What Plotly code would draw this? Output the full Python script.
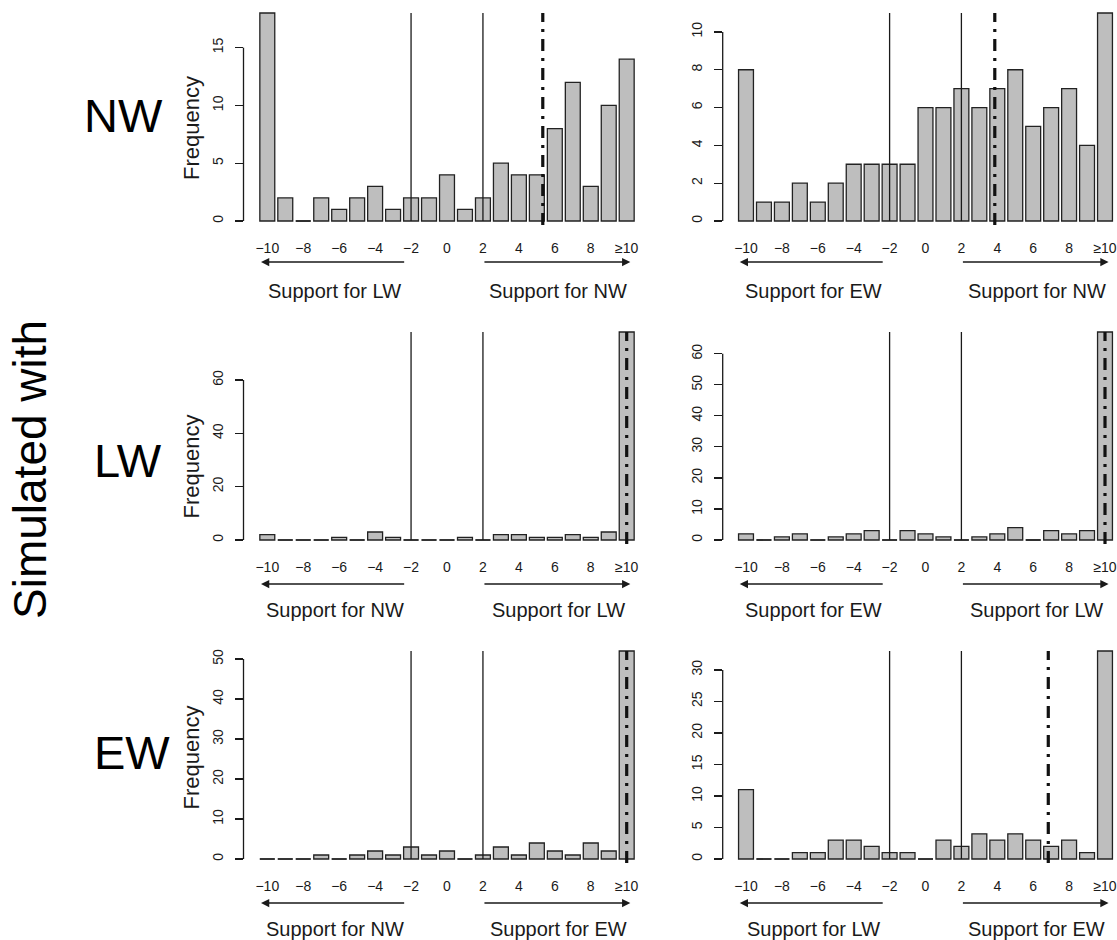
import plotly.graph_objects as go

W, H = 1117, 940

# ---------------- data ----------------
bins = list(range(-10, 11))
tick_vals = [-10, -8, -6, -4, -2, 0, 2, 4, 6, 8, 10]
tick_text = ["\u221210", "\u22128", "\u22126", "\u22124", "\u22122", "0", "2", "4", "6", "8", "\u226510"]

sim_models = ["NW", "LW", "EW"]
support_left = [["LW", "EW"], ["NW", "EW"], ["NW", "LW"]]
support_right = [["NW", "NW"], ["LW", "LW"], ["EW", "EW"]]

nw_lw_vs_nw = [18, 2, 0, 2, 1, 2, 3, 1, 2, 2, 4, 1, 2, 5, 4, 4, 8, 12, 3, 10, 14]
nw_ew_vs_nw = [8, 1, 1, 2, 1, 2, 3, 3, 3, 3, 6, 6, 7, 6, 7, 8, 5, 6, 7, 4, 11]
lw_nw_vs_lw = [2, 0, 0, 0, 1, 0, 3, 1, 0, 0, 0, 1, 0, 2, 2, 1, 1, 2, 1, 3, 78]
lw_ew_vs_lw = [2, 0, 1, 2, 0, 1, 2, 3, 0, 3, 2, 1, 0, 1, 2, 4, 0, 3, 2, 3, 67]
ew_nw_vs_ew = [0, 0, 0, 1, 0, 1, 2, 1, 3, 1, 2, 0, 1, 3, 1, 4, 2, 1, 4, 2, 52]
ew_lw_vs_ew = [11, 0, 0, 1, 1, 3, 3, 2, 1, 1, 0, 3, 2, 4, 3, 4, 3, 2, 3, 1, 33]
counts = [[nw_lw_vs_nw, nw_ew_vs_nw],
          [lw_nw_vs_lw, lw_ew_vs_lw],
          [ew_nw_vs_ew, ew_lw_vs_ew]]

observed = [[5.33, 3.86], [10, 10], [10, 6.84]]
thresholds = [-2, 2]

y_ticks = [[[0, 5, 10, 15], [0, 2, 4, 6, 8, 10]],
           [[0, 20, 40, 60], [0, 10, 20, 30, 40, 50, 60]],
           [[0, 10, 20, 30, 40, 50], [0, 5, 10, 15, 20, 25, 30]]]

# ---------------- geometry (pixels) ----------------
zero_px = [221, 540, 859]
bar_h_px = 208
axis_px = [243.5, 722.7]
c0_px = [267.3, 746.0]
step_px = [17.97, 17.95]
x_right = 10.6
bargap = 0.17
half_w = (1 - bargap) / 2

FONT = "Liberation Sans, Arial, Helvetica, sans-serif"
INK = "#1a1a1a"


def fx(px):
    return px / W


def fy(py):
    return 1 - py / H


fig = go.Figure()
annotations = []
shapes = []

for r in range(3):
    for c in range(2):
        k = r * 2 + c + 1
        xa = "x" if k == 1 else f"x{k}"
        ya = "y" if k == 1 else f"y{k}"
        vals = counts[r][c]
        vmax = max(vals)
        u = bar_h_px / vmax  # px per count
        z = zero_px[r]

        # axes
        x_left = -10 - (c0_px[c] - axis_px[c]) / step_px[c]
        dom_x = [fx(axis_px[c]), min(1.0, fx(c0_px[c] + (x_right + 10) * step_px[c]))]
        pad_b, pad_t = 4, 6
        dom_y = [fy(z + pad_b), fy(z - bar_h_px - pad_t)]
        fig.layout[f"xaxis{k if k > 1 else ''}"] = dict(
            domain=dom_x, range=[x_left, x_left + (dom_x[1] - dom_x[0]) * W / step_px[c]],
            anchor=ya,
            showgrid=False, zeroline=False, showline=False, ticks="",
            tickvals=tick_vals, ticktext=tick_text, ticklabelstandoff=13,
            tickfont=dict(family=FONT, size=14, color=INK), fixedrange=True)
        fig.layout[f"yaxis{k if k > 1 else ''}"] = dict(
            domain=dom_y, range=[-pad_b / u, vmax + pad_t / u], anchor=xa,
            showgrid=False, zeroline=False, showline=False,
            ticks="outside", ticklen=8, tickwidth=1.2, tickcolor=INK,
            tickvals=y_ticks[r][c], tickangle=-90, ticklabelstandoff=6,
            tickfont=dict(family=FONT, size=14, color=INK), fixedrange=True)

        # bars
        fig.add_trace(go.Bar(x=bins, y=vals, xaxis=xa, yaxis=ya,
                             marker=dict(color="#bebebe", line=dict(color="#222222", width=1.3)),
                             width=1 - bargap, showlegend=False))
        # zero-height bars drawn as their outline on the baseline
        zx, zy = [], []
        for b, v in zip(bins, vals):
            if v == 0:
                zx += [b - half_w, b + half_w, None]
                zy += [0, 0, None]
        fig.add_trace(go.Scatter(x=zx, y=zy, xaxis=xa, yaxis=ya, mode="lines",
                                 line=dict(color="#222222", width=1.3),
                                 showlegend=False, hoverinfo="skip"))
        # observed value (dash-dot)
        fig.add_trace(go.Scatter(x=[observed[r][c], observed[r][c]], y=[-pad_b / u, vmax],
                                 xaxis=xa, yaxis=ya, mode="lines",
                                 line=dict(color="#111111", width=3.2, dash="12px,7px,3px,7px"),
                                 showlegend=False, hoverinfo="skip"))
        # threshold lines
        for t in thresholds:
            shapes.append(dict(type="line", xref=xa, yref=ya, x0=t, x1=t, y0=0, y1=vmax,
                               line=dict(color=INK, width=1.3), layer="above"))
        # y axis line spanning ticks
        shapes.append(dict(type="line", xref=f"{xa} domain", yref=ya, x0=0, x1=0,
                           y0=y_ticks[r][c][0], y1=y_ticks[r][c][-1],
                           line=dict(color=INK, width=1.3)))

        # arrows
        ay_px = z + (41 if r == 0 else 44)
        annotations.append(dict(x=-10.35, y=fy(ay_px), ax=-2.3, ay=0,
                                xref=xa, yref="paper", axref=xa, ayref="pixel",
                                text="", showarrow=True, arrowhead=2, arrowsize=1.1,
                                arrowwidth=1.5, arrowcolor=INK, standoff=0, startstandoff=0))
        annotations.append(dict(x=10.2, y=fy(ay_px), ax=2.0, ay=0,
                                xref=xa, yref="paper", axref=xa, ayref="pixel",
                                text="", showarrow=True, arrowhead=2, arrowsize=1.1,
                                arrowwidth=1.5, arrowcolor=INK, standoff=0, startstandoff=0))
        # support labels
        for xs, lab in [(-6.25, support_left[r][c]), (6.2, support_right[r][c])]:
            annotations.append(dict(x=xs, y=fy(z + 70), xref=xa, yref="paper",
                                    text=f"Support for {lab}", showarrow=False,
                                    xanchor="center", yanchor="middle",
                                    font=dict(family=FONT, size=20, color=INK)))

# Frequency labels (left column)
freq_y = [128.3, 466.7, 757.8]
for r in range(3):
    annotations.append(dict(x=fx(191.7), y=fy(freq_y[r]), xref="paper", yref="paper",
                            text="Frequency", textangle=-90, showarrow=False,
                            xanchor="center", yanchor="middle",
                            font=dict(family=FONT, size=22, color=INK)))

# model row labels
row_lab_pos = [(123, 115), (127.5, 460.5), (132, 752.5)]
for r in range(3):
    annotations.append(dict(x=fx(row_lab_pos[r][0]), y=fy(row_lab_pos[r][1]),
                            xref="paper", yref="paper", text=sim_models[r], showarrow=False,
                            xanchor="center", yanchor="middle",
                            font=dict(family=FONT, size=47, color="#000000")))

annotations.append(dict(x=fx(30), y=fy(470), xref="paper", yref="paper",
                        text="Simulated with", textangle=-90, showarrow=False,
                        xanchor="center", yanchor="middle",
                        font=dict(family=FONT, size=46, color="#000000")))

fig.update_layout(width=W, height=H, autosize=False,
                  margin=dict(l=0, r=0, t=0, b=0),
                  paper_bgcolor="white", plot_bgcolor="white",
                  annotations=annotations, shapes=shapes,
                  bargap=bargap, showlegend=False)

fig.write_html("out.html", config={"displayModeBar": False, "staticPlot": True},
               post_script="document.body.style.margin='0px';document.body.style.padding='0px';")
